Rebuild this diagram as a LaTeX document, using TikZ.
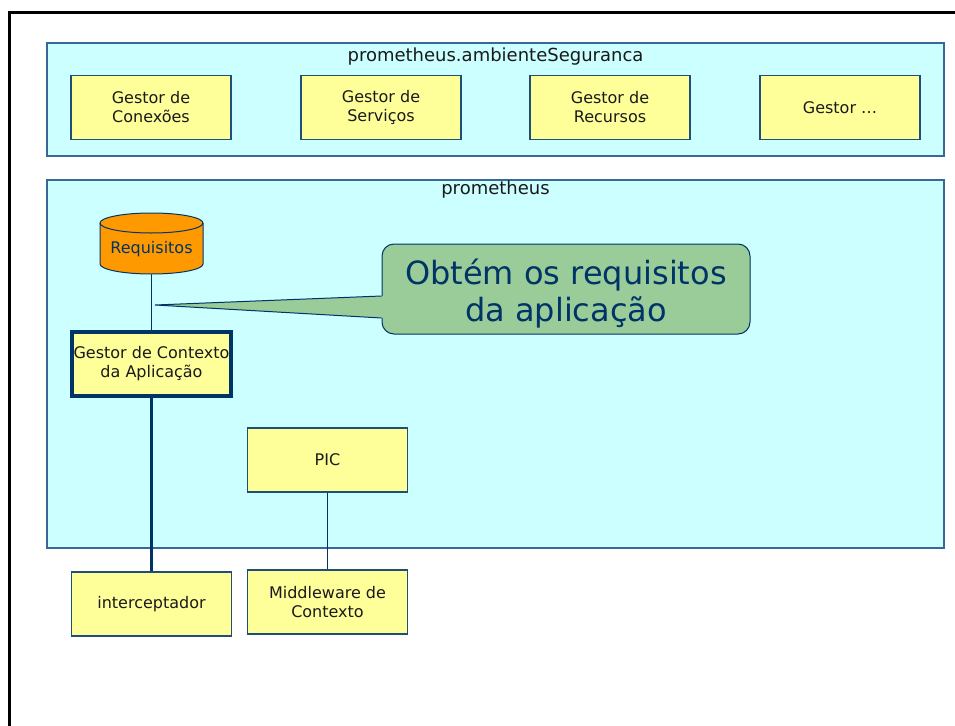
\documentclass[tikz,border=0pt]{standalone}
\usepackage{fontspec}
\setmainfont{DejaVu Sans}
\usetikzlibrary{calc}
\definecolor{ciano}{HTML}{CCFFFF}
\definecolor{amarelo}{HTML}{FFFF99}
\definecolor{laranja}{HTML}{FF9900}
\definecolor{verde}{HTML}{99CC99}
\definecolor{marinho}{HTML}{003366}
\definecolor{bordacx}{HTML}{3A6794}
\definecolor{bordabox}{HTML}{1F4E79}
\definecolor{texto}{HTML}{1A1A1A}
\begin{document}
\begin{tikzpicture}[x=1pt,y=-1pt,
    bloco/.style={draw=bordacx, fill=ciano, line width=1.5pt},
    titulo/.style={font=\fontsize{18}{21}\selectfont, text=texto, anchor=base, inner sep=0pt},
    caixa/.style={draw=bordabox, fill=amarelo, line width=1.5pt, minimum width=160, minimum height=64,
        align=center, text=texto, font=\fontsize{16}{19}\selectfont, inner sep=0pt},
    tampa/.style={x radius=51.5, y radius=10},
    liga/.style={draw=marinho, line width=1.5pt}]
    \useasboundingbox (0,0) rectangle (955,725);
    % moldura
    \draw[line width=3pt] (9,740) -- (9,13) -- (970,13);
    % ambiente de seguranca
    \node[bloco, minimum width=897, minimum height=113] (seguranca) at (495.5,99.5) {};
    \node[titulo] (tseguranca) at ($(seguranca.north)+(0,19)$) {prometheus.ambienteSeguranca};
    \node[caixa] (conexoes) at (151,107.5) {Gestor de\\Conexões};
    \node[caixa] (servicos) at (381,107.5) {Gestor de\\Serviços};
    \node[caixa] (recursos) at (610,107.5) {Gestor de\\Recursos};
    \node[caixa] (outros) at (840,107.5) {Gestor \dots};
    % prometheus
    \node[bloco, minimum width=897, minimum height=368] (prometheus) at (495.5,364) {};
    \node[titulo] (tprometheus) at ($(prometheus.north)+(0,15)$) {prometheus};
    % base de dados
    \coordinate (cil) at (151.5,249);
    \filldraw[fill=laranja, draw=marinho, line width=1pt] ($(cil)+(-51.5,-26)$) -- ($(cil)+(-51.5,15)$)
        arc[start angle=180, end angle=0, tampa] -- ($(cil)+(51.5,-26)$)
        arc[start angle=0, end angle=-180, tampa] -- cycle;
    \draw[marinho, line width=1pt] ($(cil)+(-51.5,-26)$) arc[start angle=180, end angle=0, tampa];
    \node[minimum width=103, minimum height=50, inner sep=0pt, text=marinho, font=\fontsize{16}{19}\selectfont]
        (requisitos) at (cil) {Requisitos};
    \node[caixa, draw=marinho, line width=4pt, minimum width=159, minimum height=64] (contexto) at (151.5,364)
        {Gestor de Contexto\\da Aplicação};
    \node[caixa] (pic) at (327.5,460) {PIC};
    % fora
    \node[caixa] (interceptador) at (151.5,604) {interceptador};
    \node[caixa] (middleware) at (327.5,602) {Middleware de\\Contexto};
    % ligacoes
    \draw[liga] (requisitos.south) -- (contexto.north);
    \draw[liga, line width=2.5pt] (contexto.south) -- (interceptador.north);
    \draw[liga] (pic.south) -- (middleware.north);
    % nota
    \coordinate (ponta) at (155,305);
    \node[draw=marinho, fill=verde, line width=1pt, rounded corners=12pt, minimum width=368, minimum height=90]
        (nota) at (566,289) {};
    \fill[verde] (ponta) -- ($(nota.west)+(2,7)$) -- ($(nota.west)+(2,29)$) -- cycle;
    \draw[marinho, line width=1pt] ($(nota.west)+(0,7)$) -- (ponta) -- ($(nota.west)+(0,29)$);
    \node[align=center, text=marinho, font=\fontsize{32}{37}\selectfont, inner sep=0pt] (tnota)
        at ($(nota.center)+(0,5)$) {Obtém os requisitos\\da aplicação};
\end{tikzpicture}
\end{document}
